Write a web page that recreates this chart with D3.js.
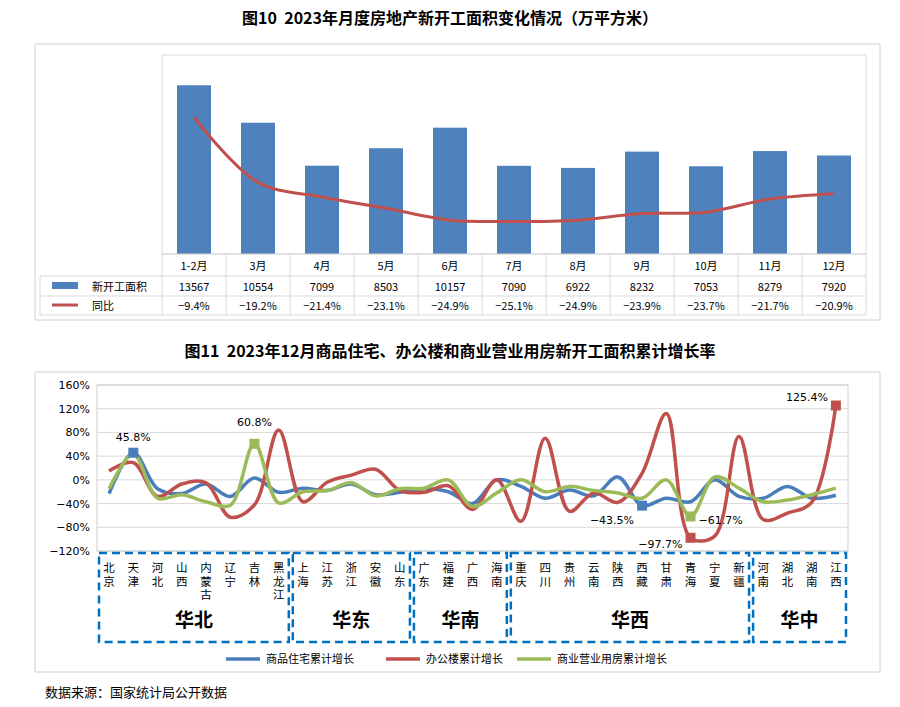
<!DOCTYPE html>
<html><head><meta charset="utf-8">
<script src="https://cdn.jsdelivr.net/npm/d3@7"></script>
<style>body{margin:0;background:#fff;font-family:"Noto Sans CJK SC","DejaVu Sans",sans-serif}text{white-space:pre}</style>
</head><body><svg id="c" width="900" height="707"></svg>
<script>
const months=["1-2月","3月","4月","5月","6月","7月","8月","9月","10月","11月","12月"];
const area=[13567,10554,7099,8503,10157,7090,6922,8232,7053,8279,7920];
const yoy=[-9.4,-19.2,-21.4,-23.1,-24.9,-25.1,-24.9,-23.9,-23.7,-21.7,-20.9];
const provinces=["北京","天津","河北","山西","内蒙古","辽宁","吉林","黑龙江","上海","江苏","浙江","安徽","山东","广东","福建","广西","海南","重庆","四川","贵州","云南","陕西","西藏","甘肃","青海","宁夏","新疆","河南","湖北","湖南","江西"];
const resid=[-23,45.8,-15,-23,-7,-28,3,-21,-14,-18,-7,-25,-21,-15,-20,-40,0,-11,-31,-17,-27,5,-43.5,-31,-37,0,-28,-31,-11,-31,-26];
const office=[15,29,-28,-7,-5,-63,-42,84,-37,-4,8,18,-18,-21,-10,-50,0,-70,70,-53,-22,-38,11,112,-97.7,-95,73,-67,-56,-38,125.4];
const comm=[-15,43,-31,-25,-37,-43,60.8,-39,-20,-18,-5,-27,-15,-14,0,-45,-22,0,-20,-11,-18,-22,-31,0,-61.7,5,-14,-37,-34,-25,-14];
const groups=[["华北",8],["华东",5],["华南",4],["华西",10],["华中",4]];
const yTicks=[160,120,80,40,0,-40,-80,-120];
const labelIdx={resid:[1,22],office:[24,30],comm:[6,24]};

const svg=d3.select("#c");
const F='"Noto Sans CJK SC",sans-serif';
svg.append("text").attr("x",450).attr("y",24).attr("text-anchor","middle").attr("font-size",16).attr("font-weight","bold").attr("font-family",F).text("图10\u00a0\u00a02023年月度房地产新开工面积变化情况（万平方米）");
svg.append("rect").attr("x",35).attr("y",44).attr("width",845).attr("height",276).attr("fill","#fff").attr("stroke","#d0d0d0");
const x1=d3.scaleBand().domain(months).range([162,866]);
const yb=d3.scaleLinear().domain([0,16000]).range([254,55]);
const yl=d3.scaleLinear().domain([-30,0]).range([254,55]);
svg.append("rect").attr("x",162).attr("y",55).attr("width",704).attr("height",199).attr("fill","none").attr("stroke","#d9d9d9");
svg.selectAll(".bar").data(area).join("rect").attr("x",(d,i)=>x1(months[i])+x1.bandwidth()/2-17).attr("width",34).attr("y",d=>yb(d)).attr("height",d=>254-yb(d)).attr("fill","#4f81bd");
svg.append("path").datum(yoy).attr("fill","none").attr("stroke","#c0504d").attr("stroke-width",3)
 .attr("d",d3.line().x((d,i)=>x1(months[i])+x1.bandwidth()/2).y(d=>yl(d)).curve(d3.curveCatmullRom));
const rows=[254,276,296,315];
const tg=svg.append("g").attr("stroke","#d9d9d9");
rows.forEach(y=>tg.append("line").attr("x1",y==254?162:40).attr("x2",866).attr("y1",y).attr("y2",y));
tg.append("line").attr("x1",40).attr("x2",40).attr("y1",276).attr("y2",315);
months.forEach((m,i)=>tg.append("line").attr("x1",x1(m)).attr("x2",x1(m)).attr("y1",254).attr("y2",315));
tg.append("line").attr("x1",866).attr("x2",866).attr("y1",254).attr("y2",315);
const tx=svg.append("g").attr("font-size",11).attr("font-family",F).attr("text-anchor","middle").attr("fill","#000");
months.forEach((m,i)=>{const cx=x1(m)+x1.bandwidth()/2;
 tx.append("text").attr("x",cx).attr("y",270).text(m);
 tx.append("text").attr("x",cx).attr("y",291).text(area[i]);
 tx.append("text").attr("x",cx).attr("y",310).text("−"+Math.abs(yoy[i]).toFixed(1)+"%");});
svg.append("rect").attr("x",52).attr("y",282).attr("width",26).attr("height",7).attr("fill","#4f81bd");
svg.append("line").attr("x1",52).attr("x2",78).attr("y1",305).attr("y2",305).attr("stroke","#c0504d").attr("stroke-width",3);
svg.append("text").attr("x",92).attr("y",291).attr("font-size",11).attr("font-family",F).text("新开工面积");
svg.append("text").attr("x",92).attr("y",310).attr("font-size",11).attr("font-family",F).text("同比");
svg.append("text").attr("x",450).attr("y",357).attr("text-anchor","middle").attr("font-size",16).attr("font-weight","bold").attr("font-family",F).text("图11\u00a0\u00a02023年12月商品住宅、办公楼和商业营业用房新开工面积累计增长率");
svg.append("rect").attr("x",35).attr("y",372).attr("width",845).attr("height",300).attr("fill","#fff").attr("stroke","#d0d0d0");
const x2=d3.scaleBand().domain(provinces).range([97,848]);
const y2=d3.scaleLinear().domain([-120,160]).range([551,385]);
const cx2=i=>x2(provinces[i])+x2.bandwidth()/2;
svg.append("g").selectAll("line").data(yTicks).join("line").attr("x1",97).attr("x2",848).attr("y1",d=>y2(d)).attr("y2",d=>y2(d)).attr("stroke","#d9d9d9");
svg.append("rect").attr("x",97).attr("y",385).attr("width",751).attr("height",166).attr("fill","none").attr("stroke","#d0d0d0");
svg.append("g").selectAll("text").data(yTicks).join("text").attr("x",90).attr("y",d=>y2(d)+4).attr("text-anchor","end").attr("font-size",11).attr("font-family","DejaVu Sans").text(d=>(d<0?"−":"")+Math.abs(d)+"%");
const series=[[resid,"#4a7ebb","resid"],[office,"#c0504d","office"],[comm,"#9bbb59","comm"]];
const ln=d3.line().x((d,i)=>cx2(i)).y(d=>y2(d)).curve(d3.curveCatmullRom);
series.forEach(([v,c])=>svg.append("path").datum(v).attr("fill","none").attr("stroke",c).attr("stroke-width",3.5).attr("d",ln));
series.forEach(([v,c,k])=>labelIdx[k].forEach(i=>{
 svg.append("rect").attr("x",cx2(i)-5).attr("y",y2(v[i])-5).attr("width",10).attr("height",10).attr("fill",c);
 let dx=0,dy=-14,anc="middle";
 if(k=="resid"&&i==22){dx=-8;dy=18;anc="end";}
 if(k=="office"&&i==24){dx=-8;dy=10;anc="end";}
 if(k=="office"&&i==30){dx=-8;dy=-5;anc="end";}
 if(k=="comm"&&i==24){dx=8;dy=8;anc="start";}
 if(k=="comm"&&i==6){dy=-18;}
 if(k=="resid"&&i==1){dy=-12;}
 svg.append("text").attr("x",cx2(i)+dx).attr("y",y2(v[i])+dy).attr("text-anchor",anc).attr("font-size",11).attr("font-family","DejaVu Sans").text((v[i]<0?"−":"")+Math.abs(v[i]).toFixed(1)+"%");
}));
provinces.forEach((p,i)=>svg.append("text").attr("x",cx2(i)).attr("y",562).attr("style","writing-mode:vertical-rl;letter-spacing:2px").attr("font-size",11.5).attr("font-family",F).text(p));
let s=0;
groups.forEach(([g,n])=>{const x0=x2(provinces[s])+2,x1e=x2(provinces[s+n-1])+x2.bandwidth()-2;
 svg.append("rect").attr("x",x0).attr("y",553).attr("width",x1e-x0).attr("height",89).attr("fill","none").attr("stroke","#0070c0").attr("stroke-width",2.5).attr("stroke-dasharray","8,5");
 svg.append("text").attr("x",(x0+x1e)/2).attr("y",627).attr("text-anchor","middle").attr("font-size",19).attr("font-weight","bold").attr("font-family",F).text(g);
 s+=n;});
const lg=[["商品住宅累计增长","#4a7ebb",226],["办公楼累计增长","#c0504d",386],["商业营业用房累计增长","#9bbb59",517]];
lg.forEach(([t,c,x])=>{svg.append("line").attr("x1",x).attr("x2",x+34).attr("y1",659).attr("y2",659).attr("stroke",c).attr("stroke-width",3.5);
 svg.append("text").attr("x",x+40).attr("y",663).attr("font-size",11).attr("font-family",F).text(t);});
svg.append("text").attr("x",45).attr("y",697).attr("font-size",13).attr("font-family",F).text("数据来源：国家统计局公开数据");
</script></body></html>
